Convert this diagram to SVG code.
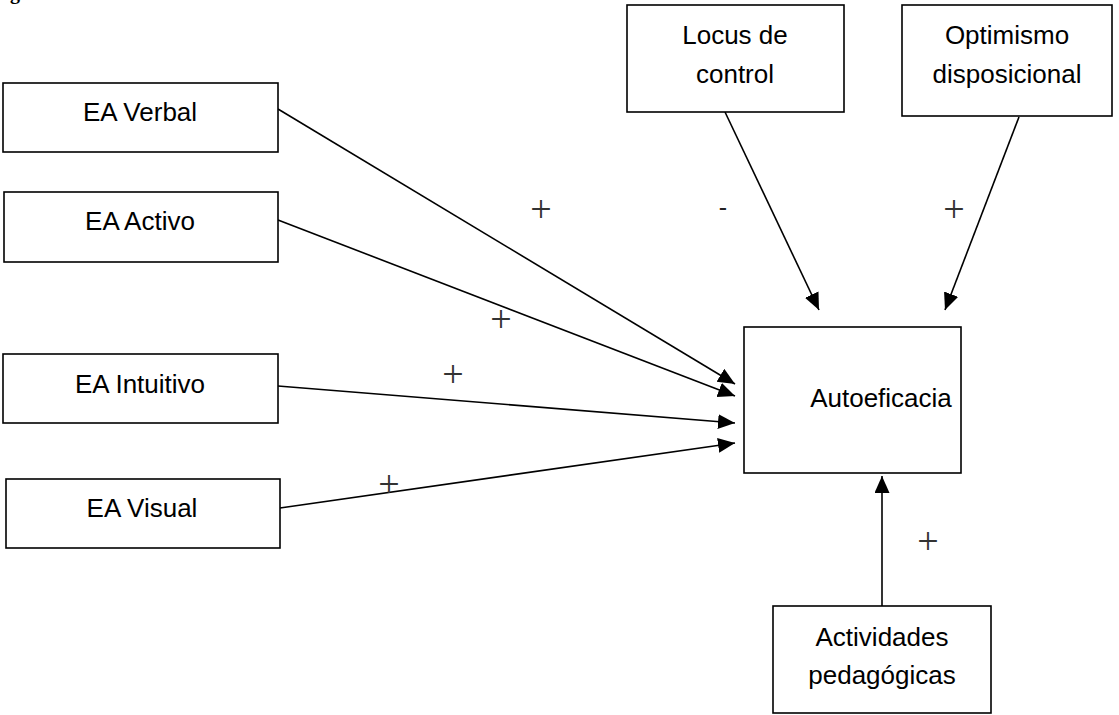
<svg xmlns="http://www.w3.org/2000/svg" width="1119" height="715" viewBox="0 0 1119 715">
  <style>
    .box { fill: #ffffff; stroke: #000000; stroke-width: 1.6; }
    .lbl { font-family: "Liberation Sans", Arial, sans-serif; font-size: 26px; fill: #000000; text-anchor: middle; }
    .sign { font-family: "Liberation Serif", "Times New Roman", serif; font-size: 38px; fill: #333333; text-anchor: middle; }
    .minus { font-family: "Liberation Sans", Arial, sans-serif; font-size: 25px; fill: #222222; text-anchor: middle; }
    .edge { fill: none; stroke: #000000; stroke-width: 1.6; marker-end: url(#arrow); }
  </style>
  <defs>
    <marker id="arrow" markerUnits="userSpaceOnUse" markerWidth="18" markerHeight="16" refX="17" refY="7.5" orient="auto">
      <path d="M0,0 L17,7.5 L0,15 Z" fill="#000000"/>
    </marker>
  </defs>

  <rect width="1119" height="715" fill="#ffffff"/>

  <!-- heading text running off the top edge -->
  <text x="10" y="-1" font-family="Liberation Serif, serif" font-weight="bold" font-size="20" fill="#000000">g</text>

  <!-- connectors -->
  <g id="connectors">
    <line class="edge" x1="278" y1="109" x2="735" y2="384"/>
    <line class="edge" x1="278" y1="220" x2="735" y2="396"/>
    <line class="edge" x1="278" y1="386" x2="735" y2="423"/>
    <line class="edge" x1="280" y1="508" x2="735" y2="443"/>
    <line class="edge" x1="725" y1="112" x2="819" y2="310"/>
    <line class="edge" x1="1019" y1="117" x2="945" y2="310"/>
    <line class="edge" x1="882" y1="606" x2="882" y2="476"/>

    <text class="sign" x="541" y="222">+</text>
    <text class="minus" x="723" y="216">-</text>
    <text class="sign" x="954" y="222">+</text>
    <text class="sign" x="501" y="332">+</text>
    <text class="sign" x="453" y="387">+</text>
    <text class="sign" x="389" y="497">+</text>
    <text class="sign" x="928" y="554">+</text>
  </g>

  <g id="ea-verbal">
    <rect class="box" x="3" y="83" width="275" height="69"/>
    <text class="lbl" x="140" y="121">EA Verbal</text>
  </g>
  <g id="ea-activo">
    <rect class="box" x="4" y="192" width="274" height="70"/>
    <text class="lbl" x="140" y="230">EA Activo</text>
  </g>
  <g id="ea-intuitivo">
    <rect class="box" x="3" y="354" width="275" height="69"/>
    <text class="lbl" x="140" y="393">EA Intuitivo</text>
  </g>
  <g id="ea-visual">
    <rect class="box" x="6" y="479" width="274" height="69"/>
    <text class="lbl" x="142" y="517">EA Visual</text>
  </g>
  <g id="locus">
    <rect class="box" x="627" y="5" width="217" height="107"/>
    <text class="lbl" x="735" y="44">Locus de</text>
    <text class="lbl" x="735" y="83">control</text>
  </g>
  <g id="optimismo">
    <rect class="box" x="902" y="5" width="210" height="111"/>
    <text class="lbl" x="1007" y="44">Optimismo</text>
    <text class="lbl" x="1007" y="83">disposicional</text>
  </g>
  <g id="autoeficacia">
    <rect class="box" x="744" y="327" width="217" height="146"/>
    <text class="lbl" x="881" y="407">Autoeficacia</text>
  </g>
  <g id="actividades">
    <rect class="box" x="773" y="606" width="218" height="107"/>
    <text class="lbl" x="882" y="646">Actividades</text>
    <text class="lbl" x="882" y="684">pedagógicas</text>
  </g>
</svg>
